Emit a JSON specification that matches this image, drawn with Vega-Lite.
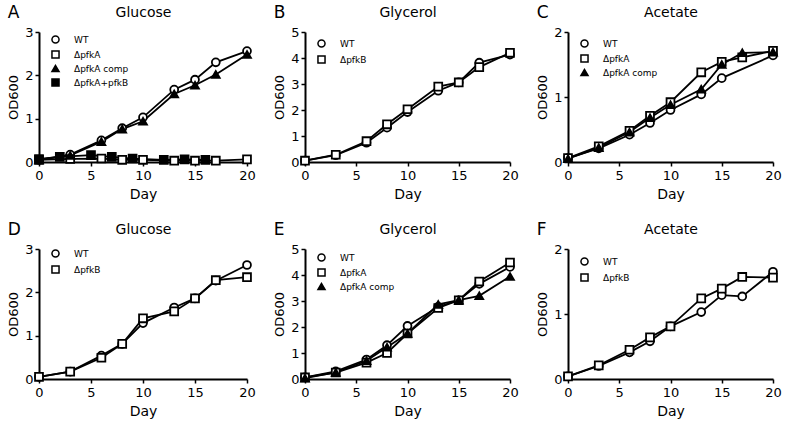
{
"$schema": "https://vega.github.io/schema/vega-lite/v6.json",
"padding": {"left": 7, "top": 4, "right": 2, "bottom": 2},
"background": "white",
"datasets": {"d": [
{"panel":"A","series":"WT","day":0,"od":0.05},{"panel":"A","series":"WT","day":3,"od":0.17},{"panel":"A","series":"WT","day":6,"od":0.50},{"panel":"A","series":"WT","day":8,"od":0.78},{"panel":"A","series":"WT","day":10,"od":1.03},{"panel":"A","series":"WT","day":13,"od":1.67},{"panel":"A","series":"WT","day":15,"od":1.90},{"panel":"A","series":"WT","day":17,"od":2.30},{"panel":"A","series":"WT","day":20,"od":2.56},
{"panel":"A","series":"ΔpfkA","day":0,"od":0.05},{"panel":"A","series":"ΔpfkA","day":3,"od":0.07},{"panel":"A","series":"ΔpfkA","day":6,"od":0.08},{"panel":"A","series":"ΔpfkA","day":8,"od":0.05},{"panel":"A","series":"ΔpfkA","day":10,"od":0.05},{"panel":"A","series":"ΔpfkA","day":13,"od":0.03},{"panel":"A","series":"ΔpfkA","day":15,"od":0.03},{"panel":"A","series":"ΔpfkA","day":17,"od":0.03},{"panel":"A","series":"ΔpfkA","day":20,"od":0.06},
{"panel":"A","series":"ΔpfkA comp","day":0,"od":0.05},{"panel":"A","series":"ΔpfkA comp","day":3,"od":0.15},{"panel":"A","series":"ΔpfkA comp","day":6,"od":0.47},{"panel":"A","series":"ΔpfkA comp","day":8,"od":0.76},{"panel":"A","series":"ΔpfkA comp","day":10,"od":0.94},{"panel":"A","series":"ΔpfkA comp","day":13,"od":1.57},{"panel":"A","series":"ΔpfkA comp","day":15,"od":1.77},{"panel":"A","series":"ΔpfkA comp","day":17,"od":2.02},{"panel":"A","series":"ΔpfkA comp","day":20,"od":2.48},
{"panel":"A","series":"ΔpfkA+pfkB","day":0,"od":0.07},{"panel":"A","series":"ΔpfkA+pfkB","day":2,"od":0.12},{"panel":"A","series":"ΔpfkA+pfkB","day":5,"od":0.16},{"panel":"A","series":"ΔpfkA+pfkB","day":7,"od":0.12},{"panel":"A","series":"ΔpfkA+pfkB","day":9,"od":0.08},{"panel":"A","series":"ΔpfkA+pfkB","day":12,"od":0.05},{"panel":"A","series":"ΔpfkA+pfkB","day":14,"od":0.06},{"panel":"A","series":"ΔpfkA+pfkB","day":16,"od":0.05},
{"panel":"B","series":"WT","day":0,"od":0.05},{"panel":"B","series":"WT","day":3,"od":0.26},{"panel":"B","series":"WT","day":6,"od":0.74},{"panel":"B","series":"WT","day":8,"od":1.32},{"panel":"B","series":"WT","day":10,"od":1.92},{"panel":"B","series":"WT","day":13,"od":2.74},{"panel":"B","series":"WT","day":15,"od":3.06},{"panel":"B","series":"WT","day":17,"od":3.82},{"panel":"B","series":"WT","day":20,"od":4.13},
{"panel":"B","series":"ΔpfkB","day":0,"od":0.05},{"panel":"B","series":"ΔpfkB","day":3,"od":0.28},{"panel":"B","series":"ΔpfkB","day":6,"od":0.80},{"panel":"B","series":"ΔpfkB","day":8,"od":1.45},{"panel":"B","series":"ΔpfkB","day":10,"od":2.03},{"panel":"B","series":"ΔpfkB","day":13,"od":2.90},{"panel":"B","series":"ΔpfkB","day":15,"od":3.06},{"panel":"B","series":"ΔpfkB","day":17,"od":3.65},{"panel":"B","series":"ΔpfkB","day":20,"od":4.20},
{"panel":"C","series":"WT","day":0,"od":0.06},{"panel":"C","series":"WT","day":3,"od":0.21},{"panel":"C","series":"WT","day":6,"od":0.42},{"panel":"C","series":"WT","day":8,"od":0.60},{"panel":"C","series":"WT","day":10,"od":0.80},{"panel":"C","series":"WT","day":13,"od":1.04},{"panel":"C","series":"WT","day":15,"od":1.29},{"panel":"C","series":"WT","day":20,"od":1.64},
{"panel":"C","series":"ΔpfkA","day":0,"od":0.06},{"panel":"C","series":"ΔpfkA","day":3,"od":0.24},{"panel":"C","series":"ΔpfkA","day":6,"od":0.48},{"panel":"C","series":"ΔpfkA","day":8,"od":0.71},{"panel":"C","series":"ΔpfkA","day":10,"od":0.92},{"panel":"C","series":"ΔpfkA","day":13,"od":1.38},{"panel":"C","series":"ΔpfkA","day":15,"od":1.54},{"panel":"C","series":"ΔpfkA","day":17,"od":1.61},{"panel":"C","series":"ΔpfkA","day":20,"od":1.71},
{"panel":"C","series":"ΔpfkA comp","day":0,"od":0.05},{"panel":"C","series":"ΔpfkA comp","day":3,"od":0.22},{"panel":"C","series":"ΔpfkA comp","day":6,"od":0.46},{"panel":"C","series":"ΔpfkA comp","day":8,"od":0.68},{"panel":"C","series":"ΔpfkA comp","day":10,"od":0.88},{"panel":"C","series":"ΔpfkA comp","day":13,"od":1.12},{"panel":"C","series":"ΔpfkA comp","day":15,"od":1.50},{"panel":"C","series":"ΔpfkA comp","day":17,"od":1.68},{"panel":"C","series":"ΔpfkA comp","day":20,"od":1.69},
{"panel":"D","series":"WT","day":0,"od":0.05},{"panel":"D","series":"WT","day":3,"od":0.17},{"panel":"D","series":"WT","day":6,"od":0.54},{"panel":"D","series":"WT","day":8,"od":0.81},{"panel":"D","series":"WT","day":10,"od":1.29},{"panel":"D","series":"WT","day":13,"od":1.65},{"panel":"D","series":"WT","day":15,"od":1.86},{"panel":"D","series":"WT","day":17,"od":2.27},{"panel":"D","series":"WT","day":20,"od":2.63},
{"panel":"D","series":"ΔpfkB","day":0,"od":0.05},{"panel":"D","series":"ΔpfkB","day":3,"od":0.17},{"panel":"D","series":"ΔpfkB","day":6,"od":0.49},{"panel":"D","series":"ΔpfkB","day":8,"od":0.81},{"panel":"D","series":"ΔpfkB","day":10,"od":1.40},{"panel":"D","series":"ΔpfkB","day":13,"od":1.56},{"panel":"D","series":"ΔpfkB","day":15,"od":1.86},{"panel":"D","series":"ΔpfkB","day":17,"od":2.28},{"panel":"D","series":"ΔpfkB","day":20,"od":2.35},
{"panel":"E","series":"WT","day":0,"od":0.06},{"panel":"E","series":"WT","day":3,"od":0.29},{"panel":"E","series":"WT","day":6,"od":0.75},{"panel":"E","series":"WT","day":8,"od":1.30},{"panel":"E","series":"WT","day":10,"od":2.04},{"panel":"E","series":"WT","day":13,"od":2.78},{"panel":"E","series":"WT","day":15,"od":3.03},{"panel":"E","series":"WT","day":17,"od":3.66},{"panel":"E","series":"WT","day":20,"od":4.31},
{"panel":"E","series":"ΔpfkA","day":0,"od":0.06},{"panel":"E","series":"ΔpfkA","day":3,"od":0.25},{"panel":"E","series":"ΔpfkA","day":6,"od":0.63},{"panel":"E","series":"ΔpfkA","day":8,"od":1.00},{"panel":"E","series":"ΔpfkA","day":10,"od":1.75},{"panel":"E","series":"ΔpfkA","day":13,"od":2.73},{"panel":"E","series":"ΔpfkA","day":15,"od":3.03},{"panel":"E","series":"ΔpfkA","day":17,"od":3.75},{"panel":"E","series":"ΔpfkA","day":20,"od":4.48},
{"panel":"E","series":"ΔpfkA comp","day":0,"od":0.03},{"panel":"E","series":"ΔpfkA comp","day":3,"od":0.25},{"panel":"E","series":"ΔpfkA comp","day":6,"od":0.70},{"panel":"E","series":"ΔpfkA comp","day":8,"od":1.22},{"panel":"E","series":"ΔpfkA comp","day":10,"od":1.75},{"panel":"E","series":"ΔpfkA comp","day":13,"od":2.87},{"panel":"E","series":"ΔpfkA comp","day":15,"od":3.03},{"panel":"E","series":"ΔpfkA comp","day":17,"od":3.20},{"panel":"E","series":"ΔpfkA comp","day":20,"od":3.94},
{"panel":"F","series":"WT","day":0,"od":0.04},{"panel":"F","series":"WT","day":3,"od":0.20},{"panel":"F","series":"WT","day":6,"od":0.41},{"panel":"F","series":"WT","day":8,"od":0.58},{"panel":"F","series":"WT","day":10,"od":0.81},{"panel":"F","series":"WT","day":13,"od":1.03},{"panel":"F","series":"WT","day":15,"od":1.29},{"panel":"F","series":"WT","day":17,"od":1.27},{"panel":"F","series":"WT","day":20,"od":1.65},
{"panel":"F","series":"ΔpfkB","day":0,"od":0.04},{"panel":"F","series":"ΔpfkB","day":3,"od":0.21},{"panel":"F","series":"ΔpfkB","day":6,"od":0.45},{"panel":"F","series":"ΔpfkB","day":8,"od":0.64},{"panel":"F","series":"ΔpfkB","day":10,"od":0.81},{"panel":"F","series":"ΔpfkB","day":13,"od":1.24},{"panel":"F","series":"ΔpfkB","day":15,"od":1.39},{"panel":"F","series":"ΔpfkB","day":17,"od":1.57},{"panel":"F","series":"ΔpfkB","day":20,"od":1.56}
]},
"data": {"name": "d"},
"columns": 3,
"spacing": {"row": 20, "column": 17},
"resolve": {"scale": {"shape": "independent", "fill": "independent"}, "legend": {"shape": "independent", "fill": "independent"}},
"concat": [
{"width": 208, "height": 130, "title": {"text": "A"},
 "transform": [{"filter": "datum.panel === 'A'"}],
 "layer": [
  {"mark": {"type": "line", "color": "black", "strokeWidth": 1.8},
   "encoding": {
    "x": {"field": "day", "type": "quantitative", "scale": {"domain": [0, 20], "nice": false}, "axis": {"title": "Day", "values": [0, 5, 10, 15, 20]}},
    "y": {"field": "od", "type": "quantitative", "scale": {"domain": [0, 3], "nice": false}, "axis": {"title": "OD600", "values": [0, 1, 2, 3]}},
    "detail": {"field": "series"}}},
  {"mark": {"type": "point", "stroke": "black", "strokeWidth": 1.8, "size": 62, "opacity": 1},
   "encoding": {
    "x": {"field": "day", "type": "quantitative", "axis": {"orient": "top", "title": "Glucose", "labels": false, "ticks": false, "domain": false}},
    "y": {"field": "od", "type": "quantitative", "axis": {"title": "OD600", "values": [0, 1, 2, 3]}},
    "shape": {"field": "series", "scale": {"domain": ["WT", "ΔpfkA", "ΔpfkA comp", "ΔpfkA+pfkB"], "range": ["circle", "square", "triangle-up", "square"]}, "legend": {"title": null, "rowPadding": 0, "orient": "none", "legendX": 12, "legendY": 3, "encode": {"symbols": {"update": {"stroke": {"value": "black"}, "strokeWidth": {"value": 1.8}}}}}},
    "fill": {"field": "series", "scale": {"domain": ["WT", "ΔpfkA", "ΔpfkA comp", "ΔpfkA+pfkB"], "range": ["white", "white", "black", "black"]}, "legend": {"title": null, "rowPadding": 0, "orient": "none", "legendX": 12, "legendY": 3, "encode": {"symbols": {"update": {"stroke": {"value": "black"}, "strokeWidth": {"value": 1.8}}}}}}}}
 ],
 "resolve": {"axis": {"x": "independent"}}},
{"width": 205, "height": 130, "title": {"text": "B"},
 "transform": [{"filter": "datum.panel === 'B'"}],
 "layer": [
  {"mark": {"type": "line", "color": "black", "strokeWidth": 1.8},
   "encoding": {
    "x": {"field": "day", "type": "quantitative", "scale": {"domain": [0, 20], "nice": false}, "axis": {"title": "Day", "values": [0, 5, 10, 15, 20]}},
    "y": {"field": "od", "type": "quantitative", "scale": {"domain": [0, 5], "nice": false}, "axis": {"title": "OD600", "values": [0, 1, 2, 3, 4, 5]}},
    "detail": {"field": "series"}}},
  {"mark": {"type": "point", "stroke": "black", "strokeWidth": 1.8, "size": 62, "opacity": 1},
   "encoding": {
    "x": {"field": "day", "type": "quantitative", "axis": {"orient": "top", "title": "Glycerol", "labels": false, "ticks": false, "domain": false}},
    "y": {"field": "od", "type": "quantitative", "axis": {"title": "OD600", "values": [0, 1, 2, 3, 4, 5]}},
    "shape": {"field": "series", "scale": {"domain": ["WT", "ΔpfkB"], "range": ["circle", "square"]}, "legend": {"title": null, "rowPadding": 1, "orient": "none", "legendX": 12, "legendY": 7, "encode": {"symbols": {"update": {"stroke": {"value": "black"}, "strokeWidth": {"value": 1.8}}}}}},
    "fill": {"field": "series", "scale": {"domain": ["WT", "ΔpfkB"], "range": ["white", "white"]}, "legend": {"title": null, "rowPadding": 1, "orient": "none", "legendX": 12, "legendY": 7, "encode": {"symbols": {"update": {"stroke": {"value": "black"}, "strokeWidth": {"value": 1.8}}}}}}}}
 ],
 "resolve": {"axis": {"x": "independent"}}},
{"width": 205, "height": 130, "title": {"text": "C"},
 "transform": [{"filter": "datum.panel === 'C'"}],
 "layer": [
  {"mark": {"type": "line", "color": "black", "strokeWidth": 1.8},
   "encoding": {
    "x": {"field": "day", "type": "quantitative", "scale": {"domain": [0, 20], "nice": false}, "axis": {"title": "Day", "values": [0, 5, 10, 15, 20]}},
    "y": {"field": "od", "type": "quantitative", "scale": {"domain": [0, 2], "nice": false}, "axis": {"title": "OD600", "values": [0, 1, 2]}},
    "detail": {"field": "series"}}},
  {"mark": {"type": "point", "stroke": "black", "strokeWidth": 1.8, "size": 62, "opacity": 1},
   "encoding": {
    "x": {"field": "day", "type": "quantitative", "axis": {"orient": "top", "title": "Acetate", "labels": false, "ticks": false, "domain": false}},
    "y": {"field": "od", "type": "quantitative", "axis": {"title": "OD600", "values": [0, 1, 2]}},
    "shape": {"field": "series", "scale": {"domain": ["WT", "ΔpfkA", "ΔpfkA comp"], "range": ["circle", "square", "triangle-up"]}, "legend": {"title": null, "rowPadding": 0, "orient": "none", "legendX": 12, "legendY": 7, "encode": {"symbols": {"update": {"stroke": {"value": "black"}, "strokeWidth": {"value": 1.8}}}}}},
    "fill": {"field": "series", "scale": {"domain": ["WT", "ΔpfkA", "ΔpfkA comp"], "range": ["white", "white", "black"]}, "legend": {"title": null, "rowPadding": 0, "orient": "none", "legendX": 12, "legendY": 7, "encode": {"symbols": {"update": {"stroke": {"value": "black"}, "strokeWidth": {"value": 1.8}}}}}}}}
 ],
 "resolve": {"axis": {"x": "independent"}}},
{"width": 208, "height": 130, "title": {"text": "D"},
 "transform": [{"filter": "datum.panel === 'D'"}],
 "layer": [
  {"mark": {"type": "line", "color": "black", "strokeWidth": 1.8},
   "encoding": {
    "x": {"field": "day", "type": "quantitative", "scale": {"domain": [0, 20], "nice": false}, "axis": {"title": "Day", "values": [0, 5, 10, 15, 20]}},
    "y": {"field": "od", "type": "quantitative", "scale": {"domain": [0, 3], "nice": false}, "axis": {"title": "OD600", "values": [0, 1, 2, 3]}},
    "detail": {"field": "series"}}},
  {"mark": {"type": "point", "stroke": "black", "strokeWidth": 1.8, "size": 62, "opacity": 1},
   "encoding": {
    "x": {"field": "day", "type": "quantitative", "axis": {"orient": "top", "title": "Glucose", "labels": false, "ticks": false, "domain": false}},
    "y": {"field": "od", "type": "quantitative", "axis": {"title": "OD600", "values": [0, 1, 2, 3]}},
    "shape": {"field": "series", "scale": {"domain": ["WT", "ΔpfkB"], "range": ["circle", "square"]}, "legend": {"title": null, "rowPadding": 1, "orient": "none", "legendX": 12, "legendY": 0, "encode": {"symbols": {"update": {"stroke": {"value": "black"}, "strokeWidth": {"value": 1.8}}}}}},
    "fill": {"field": "series", "scale": {"domain": ["WT", "ΔpfkB"], "range": ["white", "white"]}, "legend": {"title": null, "rowPadding": 1, "orient": "none", "legendX": 12, "legendY": 0, "encode": {"symbols": {"update": {"stroke": {"value": "black"}, "strokeWidth": {"value": 1.8}}}}}}}}
 ],
 "resolve": {"axis": {"x": "independent"}}},
{"width": 205, "height": 130, "title": {"text": "E"},
 "transform": [{"filter": "datum.panel === 'E'"}],
 "layer": [
  {"mark": {"type": "line", "color": "black", "strokeWidth": 1.8},
   "encoding": {
    "x": {"field": "day", "type": "quantitative", "scale": {"domain": [0, 20], "nice": false}, "axis": {"title": "Day", "values": [0, 5, 10, 15, 20]}},
    "y": {"field": "od", "type": "quantitative", "scale": {"domain": [0, 5], "nice": false}, "axis": {"title": "OD600", "values": [0, 1, 2, 3, 4, 5]}},
    "detail": {"field": "series"}}},
  {"mark": {"type": "point", "stroke": "black", "strokeWidth": 1.8, "size": 62, "opacity": 1},
   "encoding": {
    "x": {"field": "day", "type": "quantitative", "axis": {"orient": "top", "title": "Glycerol", "labels": false, "ticks": false, "domain": false}},
    "y": {"field": "od", "type": "quantitative", "axis": {"title": "OD600", "values": [0, 1, 2, 3, 4, 5]}},
    "shape": {"field": "series", "scale": {"domain": ["WT", "ΔpfkA", "ΔpfkA comp"], "range": ["circle", "square", "triangle-up"]}, "legend": {"title": null, "rowPadding": 0, "orient": "none", "legendX": 12, "legendY": 4, "encode": {"symbols": {"update": {"stroke": {"value": "black"}, "strokeWidth": {"value": 1.8}}}}}},
    "fill": {"field": "series", "scale": {"domain": ["WT", "ΔpfkA", "ΔpfkA comp"], "range": ["white", "white", "black"]}, "legend": {"title": null, "rowPadding": 0, "orient": "none", "legendX": 12, "legendY": 4, "encode": {"symbols": {"update": {"stroke": {"value": "black"}, "strokeWidth": {"value": 1.8}}}}}}}}
 ],
 "resolve": {"axis": {"x": "independent"}}},
{"width": 205, "height": 130, "title": {"text": "F"},
 "transform": [{"filter": "datum.panel === 'F'"}],
 "layer": [
  {"mark": {"type": "line", "color": "black", "strokeWidth": 1.8},
   "encoding": {
    "x": {"field": "day", "type": "quantitative", "scale": {"domain": [0, 20], "nice": false}, "axis": {"title": "Day", "values": [0, 5, 10, 15, 20]}},
    "y": {"field": "od", "type": "quantitative", "scale": {"domain": [0, 2], "nice": false}, "axis": {"title": "OD600", "values": [0, 1, 2]}},
    "detail": {"field": "series"}}},
  {"mark": {"type": "point", "stroke": "black", "strokeWidth": 1.8, "size": 62, "opacity": 1},
   "encoding": {
    "x": {"field": "day", "type": "quantitative", "axis": {"orient": "top", "title": "Acetate", "labels": false, "ticks": false, "domain": false}},
    "y": {"field": "od", "type": "quantitative", "axis": {"title": "OD600", "values": [0, 1, 2]}},
    "shape": {"field": "series", "scale": {"domain": ["WT", "ΔpfkB"], "range": ["circle", "square"]}, "legend": {"title": null, "rowPadding": 1, "orient": "none", "legendX": 12, "legendY": 8, "encode": {"symbols": {"update": {"stroke": {"value": "black"}, "strokeWidth": {"value": 1.8}}}}}},
    "fill": {"field": "series", "scale": {"domain": ["WT", "ΔpfkB"], "range": ["white", "white"]}, "legend": {"title": null, "rowPadding": 1, "orient": "none", "legendX": 12, "legendY": 8, "encode": {"symbols": {"update": {"stroke": {"value": "black"}, "strokeWidth": {"value": 1.8}}}}}}}}
 ],
 "resolve": {"axis": {"x": "independent"}}}
],
"config": {
 "font": "DejaVu Sans",
 "view": {"stroke": null},
 "axis": {"grid": false, "format": "~g", "labelFlush": false, "domainColor": "black", "domainWidth": 2, "tickColor": "black", "tickWidth": 1.5, "tickSize": 4, "labelColor": "black", "labelFontSize": 13, "labelPadding": 2, "titleColor": "black", "titleFontSize": 13, "titleFontWeight": "normal", "titlePadding": 4},
 "axisBottom": {"labelPadding": 3, "titlePadding": 5, "titleFontSize": 14},
 "axisTop": {"titleFontSize": 14, "titlePadding": 13},
 "legend": {"padding": 0, "labelFontSize": 9, "labelColor": "black", "symbolSize": 50, "labelOffset": 14},
 "title": {"anchor": "start", "frame": "bounds", "fontSize": 17, "fontWeight": "normal", "color": "black", "offset": -17}
}
}
